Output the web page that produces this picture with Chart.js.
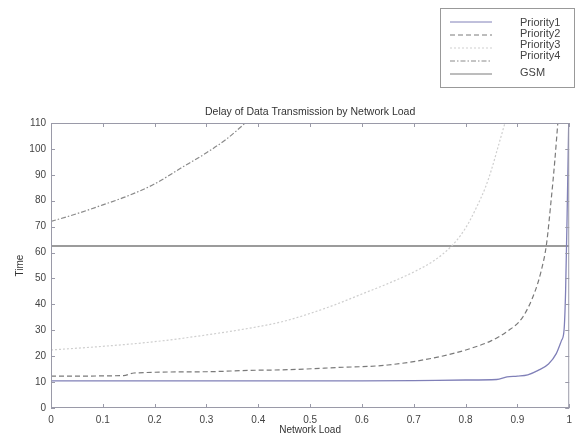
<!DOCTYPE html>
<html>
<head>
<meta charset="utf-8">
<script src="https://cdn.jsdelivr.net/npm/chart.js@4/dist/chart.umd.min.js"></script>
<style>
  html, body { margin: 0; padding: 0; background: #fff; }
  #wrap { width: 578px; height: 436px; }
</style>
</head>
<body>
<div id="wrap"><canvas id="grafico" width="578" height="436"></canvas></div>
<script>
// datos leidos a ojo del grafico original
const loadP1 = [0, 0.1, 0.2, 0.3, 0.4, 0.5, 0.6, 0.7, 0.8, 0.86, 0.88, 0.9, 0.92, 0.94, 0.96, 0.975, 0.985, 0.99, 0.993, 0.996, 0.999];
const timeP1 = [10.5, 10.5, 10.5, 10.5, 10.5, 10.5, 10.5, 10.6, 10.8, 11, 12, 12.3, 12.8, 14.5, 17, 21, 26, 30, 45, 75, 110];

const loadP2 = [0, 0.14, 0.16, 0.3, 0.38, 0.46, 0.55, 0.65, 0.75, 0.81, 0.85, 0.88, 0.91, 0.934, 0.946, 0.956, 0.965, 0.972, 0.978];
const timeP2 = [12.3, 12.5, 13.5, 14, 14.5, 14.8, 15.6, 16.6, 19.8, 23, 26, 29.5, 35, 45, 53, 63, 80, 95, 110];

const loadP3 = [0, 0.1, 0.2, 0.3, 0.4, 0.45, 0.5, 0.55, 0.6, 0.65, 0.7, 0.74, 0.773, 0.79, 0.806, 0.82, 0.838, 0.85, 0.863, 0.876];
const timeP3 = [22.4, 23.8, 25.6, 28.2, 31.4, 33.5, 36.5, 40, 44, 48, 52.5, 57, 62.5, 66.5, 71.5, 77, 85, 92, 101, 110];

const loadP4 = [0, 0.05, 0.1, 0.15, 0.2, 0.25, 0.3, 0.34, 0.375];
const timeP4 = [72, 75, 78.4, 82, 86.5, 92.5, 98.5, 104, 110];

const loadGSM = [0, 1];
const timeGSM = [62.5, 62.5];

const xTicks = [0, 0.1, 0.2, 0.3, 0.4, 0.5, 0.6, 0.7, 0.8, 0.9, 1];
const yTicks = [0, 10, 20, 30, 40, 50, 60, 70, 80, 90, 100, 110];

const nombres = ['Priority1', 'Priority2', 'Priority3', 'Priority4', 'GSM'];

function puntos(xs, ys) {
    return xs.map((x, i) => ({ x: x, y: ys[i] }));
}

const fuente = '"Liberation Sans", Arial, sans-serif';

// ---- plugin: caja, ticks hacia dentro, titulo y leyenda estilo matlab ----
const estiloMatlab = {
    id: 'estiloMatlab',
    afterDraw(chart) {
        const ctx = chart.ctx;
        const a = chart.chartArea;
        const sx = chart.scales.x, sy = chart.scales.y;
        ctx.save();
        ctx.strokeStyle = '#9a9aa8';
        ctx.lineWidth = 1;
        ctx.strokeRect(a.left + 0.5, a.top + 0.5, a.right - a.left - 1, a.bottom - a.top - 1);
        ctx.beginPath();
        xTicks.forEach(v => {
            const px = Math.round(sx.getPixelForValue(v)) + 0.5;
            ctx.moveTo(px, a.bottom); ctx.lineTo(px, a.bottom - 4);
            ctx.moveTo(px, a.top); ctx.lineTo(px, a.top + 4);
        });
        yTicks.forEach(v => {
            const py = Math.round(sy.getPixelForValue(v)) + 0.5;
            ctx.moveTo(a.left, py); ctx.lineTo(a.left + 4, py);
            ctx.moveTo(a.right, py); ctx.lineTo(a.right - 4, py);
        });
        ctx.stroke();

        // titulo
        ctx.fillStyle = '#333';
        ctx.font = '10.5px ' + fuente;
        ctx.textAlign = 'center';
        ctx.textBaseline = 'middle';
        ctx.fillText('Delay of Data Transmission by Network Load', (a.left + a.right) / 2, 112);

        // leyenda
        const bx = 440, by = 8, bw = 134, bh = 79;
        const lineaY = [22, 35, 48, 61, 74];
        const textoY = [23, 34, 45, 56, 73];
        ctx.fillStyle = '#fff';
        ctx.fillRect(bx, by, bw, bh);
        ctx.strokeStyle = '#999';
        ctx.strokeRect(bx + 0.5, by + 0.5, bw, bh);
        chart.data.datasets.forEach((ds, i) => {
            ctx.strokeStyle = ds.borderColor;
            ctx.lineWidth = 1;
            ctx.setLineDash(ds.borderDash || []);
            ctx.beginPath();
            ctx.moveTo(bx + 10, lineaY[i]); ctx.lineTo(bx + 52, lineaY[i]);
            ctx.stroke();
            ctx.setLineDash([]);
            ctx.fillStyle = '#444';
            ctx.textAlign = 'left';
            ctx.font = '11px ' + fuente;
            ctx.fillText(ds.label, bx + 80, textoY[i]);
        });
        ctx.restore();
    }
};

document.addEventListener('DOMContentLoaded', function () {
    const ctx = document.getElementById('grafico');
    new Chart(ctx, {
        type: 'line',
        data: {
            datasets: [
                { label: nombres[0], data: puntos(loadP1, timeP1), borderColor: '#8080b8', borderWidth: 1.3 },
                { label: nombres[1], data: puntos(loadP2, timeP2), borderColor: '#7a7a7a', borderWidth: 1.2, borderDash: [5, 3] },
                { label: nombres[2], data: puntos(loadP3, timeP3), borderColor: '#cfcfcf', borderWidth: 1.2, borderDash: [2, 2] },
                { label: nombres[3], data: puntos(loadP4, timeP4), borderColor: '#8a8a8a', borderWidth: 1.2, borderDash: [5, 2, 1.5, 2] },
                { label: nombres[4], data: puntos(loadGSM, timeGSM), borderColor: '#7a7a7a', borderWidth: 1.5 }
            ]
        },
        options: {
            responsive: false,
            animation: false,
            events: [],
            elements: {
                point: { radius: 0 },
                line: { fill: false, cubicInterpolationMode: 'monotone' }
            },
            layout: { padding: { top: 123, right: 7, left: 0, bottom: 0 } },
            plugins: {
                legend: { display: false },
                title: { display: false },
                tooltip: { enabled: false }
            },
            scales: {
                x: {
                    type: 'linear',
                    min: 0,
                    max: 1,
                    afterBuildTicks: s => { s.ticks = xTicks.map(v => ({ value: v })); },
                    afterFit: s => { s.height = 28; },
                    grid: { display: false, drawTicks: false },
                    border: { display: false },
                    ticks: {
                        color: '#444',
                        font: { size: 10, family: fuente },
                        padding: 6,
                        maxRotation: 0,
                        callback: v => String(v)
                    },
                    title: {
                        display: true,
                        text: 'Network Load',
                        color: '#333',
                        font: { size: 10, family: fuente },
                        padding: { top: 0, bottom: 0 }
                    }
                },
                y: {
                    min: 0,
                    max: 110,
                    afterBuildTicks: s => { s.ticks = yTicks.map(v => ({ value: v })); },
                    afterFit: s => { s.width = 51; },
                    grid: { display: false, drawTicks: false },
                    border: { display: false },
                    ticks: {
                        color: '#444',
                        font: { size: 10, family: fuente },
                        padding: 5
                    },
                    title: {
                        display: true,
                        text: 'Time',
                        color: '#333',
                        font: { size: 10, family: fuente },
                        padding: { top: 14, bottom: 0 }
                    }
                }
            }
        },
        plugins: [estiloMatlab]
    });
});
</script>
</body>
</html>
